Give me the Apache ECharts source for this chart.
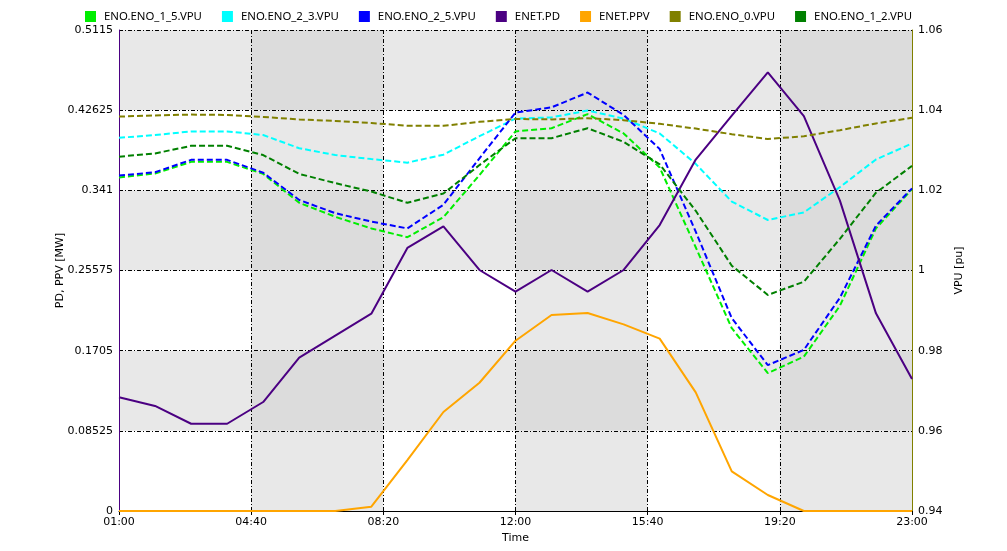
<!DOCTYPE html>
<html>
<head>
<meta charset="utf-8">
<script src="https://cdn.jsdelivr.net/npm/echarts@6/dist/echarts.min.js"></script>
<style>
html,body{margin:0;padding:0;background:#fff;}
#main{width:1007px;height:551px;}
</style>
</head>
<body>
<div id="main"></div>
<script>
// hourly samples
var hours = ['01:00','02:00','03:00','04:00','05:00','06:00','07:00','08:00','09:00','10:00','11:00','12:00',
	'13:00','14:00','15:00','16:00','17:00','18:00','19:00','20:00','21:00','22:00','23:00'];

var xTickLabels = ['01:00','04:40','08:20','12:00','15:40','19:20','23:00'];
var leftTickLabels = ['0','0.08525','0.1705','0.25575','0.341','0.42625','0.5115'];
var rightTickLabels = ['0.94','0.96','0.98','1','1.02','1.04','1.06'];

var pd  = [0.1209,0.1117,0.0928,0.0928,0.1159,0.1630,0.1864,0.2098,0.2797,0.3027,0.2563,0.2332,
	0.2563,0.2332,0.2563,0.3041,0.3737,0.4204,0.4665,0.4200,0.3300,0.2102,0.1404];
var ppv = [0,0,0,0,0,0,0,0.0046,0.0542,0.1053,0.1364,0.1811,
	0.2084,0.2106,0.1985,0.1833,0.1262,0.0422,0.0170,0,0,0,0];
var vpu0  = [1.0384,1.0387,1.0389,1.0388,1.0383,1.0377,1.0373,1.0368,1.0361,1.0361,1.0371,1.0378,
	1.0377,1.0380,1.0375,1.0366,1.0354,1.0340,1.0328,1.0335,1.0350,1.0367,1.0381];
var vpu23 = [1.0331,1.0338,1.0347,1.0347,1.0338,1.0305,1.0288,1.0278,1.0269,1.0289,1.0335,1.0379,
	1.0382,1.0399,1.0379,1.0342,1.0266,1.0172,1.0126,1.0145,1.0208,1.0277,1.0317];
var vpu12 = [1.0284,1.0292,1.0311,1.0311,1.0288,1.0241,1.0218,1.0197,1.0169,1.0192,1.0263,1.0330,
	1.0330,1.0355,1.0321,1.0265,1.0149,1.0012,0.9939,0.9972,1.0079,1.0194,1.0261];
var vpu25 = [1.0237,1.0245,1.0276,1.0276,1.0244,1.0176,1.0143,1.0122,1.0105,1.0164,1.0280,1.0394,
	1.0407,1.0444,1.0388,1.0303,1.0097,0.9881,0.9764,0.9802,0.9932,1.0112,1.0205];
var vpu15 = [1.0232,1.0242,1.0271,1.0271,1.0241,1.0169,1.0134,1.0105,1.0083,1.0133,1.0238,1.0347,
	1.0355,1.0390,1.0342,1.0257,1.0058,0.9856,0.9744,0.9785,0.9912,1.0105,1.0203];

// minutes since 01:00
function toMin(s){
	var p = s.split(':');
	return (+p[0])*60 + (+p[1]) - 60;
}
function pairs(vals){
	var out = [];
	for (var i = 0; i < hours.length; i++) out.push([toMin(hours[i]), vals[i]]);
	return out;
}

var xStep = 220, yStep = 0.08525;

// checkerboard background
var cells = [];
for (var c = 0; c < xTickLabels.length - 1; c++) {
	for (var r = 0; r < leftTickLabels.length - 1; r++) {
		var col;
		if (r % 2 == 0) col = (c % 2 == 0) ? '#ffffff' : '#e8e8e8';
		else col = (c % 2 == 0) ? '#e8e8e8' : '#dcdcdc';
		cells.push([
			{xAxis: toMin(xTickLabels[c]), yAxis: +leftTickLabels[r], itemStyle: {color: col}},
			{xAxis: toMin(xTickLabels[c + 1]), yAxis: +leftTickLabels[r + 1]}
		]);
	}
}

var font = 'DejaVu Sans';
var gridLine = {show: true, lineStyle: {color: '#000', type: [4, 2, 1, 2], width: 1}};

function vpuSeries(name, color, vals){
	return {
		name: name, type: 'line', yAxisIndex: 1, z: 3,
		symbol: 'none', data: pairs(vals),
		lineStyle: {color: color, width: 2, type: [6, 3]},
		itemStyle: {color: color}
	};
}

var myChart = echarts.init(document.getElementById('main'));
var option = {
	animation: false,
	grid: {left: 119, right: 95, top: 30, bottom: 40},
	legend: {
		left: 80, top: 6,
		icon: 'rect', itemWidth: 11, itemHeight: 11, itemGap: 20,
		textStyle: {fontFamily: 'Noto Sans', fontSize: 11.4, color: '#000', padding: [0, 0, 0, 3]},
		data: ['ENO.ENO_1_5.VPU','ENO.ENO_2_3.VPU','ENO.ENO_2_5.VPU','ENET.PD','ENET.PPV','ENO.ENO_0.VPU','ENO.ENO_1_2.VPU']
	},
	xAxis: {
		type: 'value', min: 0, max: 1320, interval: xStep, z: 2,
		name: 'Time', nameLocation: 'middle', nameGap: 19,
		nameTextStyle: {fontFamily: font, fontSize: 11, color: '#000'},
		axisLine: {lineStyle: {color: '#000', width: 1}},
		axisTick: {show: true, length: 4, lineStyle: {color: '#000'}},
		axisLabel: {fontFamily: font, fontSize: 11, color: '#000', margin: 6,
			formatter: function(v){ return xTickLabels[Math.round(v / xStep)]; }},
		splitLine: gridLine
	},
	yAxis: [{
		type: 'value', min: 0, max: 0.5115, interval: yStep, z: 2,
		name: 'PD, PPV [MW]', nameLocation: 'middle', nameGap: 53, nameRotate: 90,
		nameMoveOverlap: false,
		nameTextStyle: {fontFamily: font, fontSize: 11, color: '#000'},
		axisLine: {show: true, lineStyle: {color: '#4b0082', width: 1}},
		axisTick: {show: false},
		axisLabel: {fontFamily: font, fontSize: 11, color: '#000', margin: 6,
			formatter: function(v){ return leftTickLabels[Math.round(v / yStep)]; }},
		splitLine: gridLine
	}, {
		type: 'value', min: 0.94, max: 1.06, interval: 0.02, z: 2,
		name: 'VPU [pu]', nameLocation: 'middle', nameGap: 42, nameRotate: 90,
		nameMoveOverlap: false,
		nameTextStyle: {fontFamily: font, fontSize: 11, color: '#000'},
		axisLine: {show: true, lineStyle: {color: '#808000', width: 1}},
		axisTick: {show: false},
		axisLabel: {fontFamily: font, fontSize: 11, color: '#000', margin: 6,
			formatter: function(v){ return rightTickLabels[Math.round((v - 0.94) / 0.02)]; }},
		splitLine: {show: false}
	}],
	series: [
		{
			type: 'line', yAxisIndex: 0, z: 1, data: [], symbol: 'none',
			markArea: {silent: true, data: cells, itemStyle: {borderWidth: 0}}
		},
		vpuSeries('ENO.ENO_1_5.VPU', '#00ee00', vpu15),
		vpuSeries('ENO.ENO_2_3.VPU', '#00ffff', vpu23),
		vpuSeries('ENO.ENO_2_5.VPU', '#0000ff', vpu25),
		{
			name: 'ENET.PD', type: 'line', yAxisIndex: 0, z: 3, symbol: 'none',
			data: pairs(pd), lineStyle: {color: '#4b0082', width: 2}, itemStyle: {color: '#4b0082'}
		},
		{
			name: 'ENET.PPV', type: 'line', yAxisIndex: 0, z: 3, symbol: 'none',
			data: pairs(ppv), lineStyle: {color: '#ffa500', width: 2}, itemStyle: {color: '#ffa500'}
		},
		vpuSeries('ENO.ENO_0.VPU', '#808000', vpu0),
		vpuSeries('ENO.ENO_1_2.VPU', '#008000', vpu12)
	]
};
myChart.setOption(option);
</script>
</body>
</html>
